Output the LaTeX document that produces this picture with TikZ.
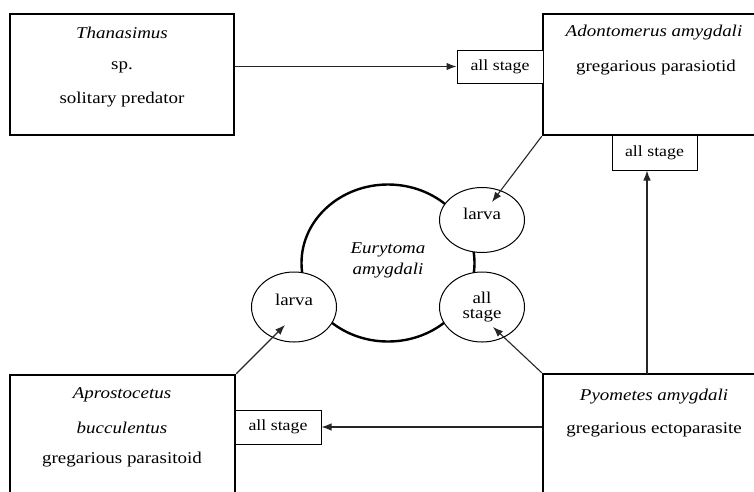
\documentclass[tikz,border=0pt]{standalone}
\usepackage{fontspec}
\setmainfont[FakeStretch=1.15]{Liberation Serif}
\usetikzlibrary{arrows.meta,shapes.geometric}
\begin{document}
\begin{tikzpicture}[x=1pt,y=-1pt,
  bigbox/.style={draw,line width=2.4pt,minimum width=224pt,minimum height=121pt,inner sep=0pt},
  tagbox/.style={draw,line width=1pt,fill=white,inner sep=0pt,font=\fontsize{15.5}{17}\selectfont},
  lab/.style={inner sep=0pt,font=\fontsize{16.5}{19}\selectfont},
  sub/.style={draw,line width=1pt,fill=white,ellipse,inner sep=0pt},
  arr/.style={draw=black!85,line width=1.1pt,-{Latex[length=10pt,width=7.5pt]}}]
\clip (0,0) rectangle (754,491);
\fill[white] (0,0) rectangle (754,491);
% boxes
\node[bigbox] (than) at (122,74.5) {};
\node[bigbox,minimum width=226pt] (adon) at (656,74.5) {};
\node[bigbox,minimum width=225pt,minimum height=150pt] (apro) at (122.5,450) {};
\node[bigbox,minimum width=226pt,minimum height=150pt] (pyom) at (656,449) {};
% box texts
\node[lab] (t1) at (122,33) {\itshape Thanasimus};
\node[lab] (t2) at (122,67) {sp.};
\node[lab] (t3) at (122,100) {solitary predator};
\node[lab] (a1) at (654,33) {\itshape Adontomerus amygdali};
\node[lab] (a2) at (656,68) {gregarious parasiotid};
\node[lab] (b1) at (122,395) {\itshape Aprostocetus};
\node[lab] (b2) at (122,428) {\itshape bucculentus};
\node[lab] (b3) at (122,460) {gregarious parasitoid};
\node[lab] (p1) at (654,397) {\itshape Pyometes amygdali};
\node[lab] (p2) at (654,430) {gregarious ectoparasite};
% tag boxes
\node[tagbox,minimum width=86pt,minimum height=33pt] (as1) at (500,66.5) {all stage};
\node[tagbox,minimum width=85pt,minimum height=35pt] (as2) at (654.5,152.5) {all stage};
\node[tagbox,minimum width=86pt,minimum height=34pt] (as3) at (278,427) {all stage};
% centre
\node[draw,line width=2.4pt,ellipse,minimum width=173pt,minimum height=157pt,inner sep=0pt] (eury) at (388,263) {};
\node[lab] (e1) at (388,250) {\itshape Eurytoma};
\node[lab] (e2) at (388,271) {\itshape amygdali};
\node[sub,minimum width=85pt,minimum height=65pt] (lr) at (482,220) {};
\node[sub,minimum width=85pt,minimum height=70pt] (asr) at (482,307) {};
\node[sub,minimum width=85pt,minimum height=70pt] (ll) at (294,307) {};
\node[lab] (lrt) at (482,214) {larva};
\node[lab] (asr1) at (482,298) {all};
\node[lab] (asr2) at (482,316) {stage};
\node[lab] (llt) at (294,300) {larva};
% arrow targets
\coordinate (tlr) at (492,202);
\coordinate (tasr) at (493,327);
\coordinate (tll) at (285,325);
\coordinate (up) at (647,374);
% connectors
\draw[arr] (as1.west -| than.east) -- (as1.west);
\draw[arr] (adon.south west) -- (tlr);
\draw[arr] (pyom.north west) -- (tasr);
\draw[arr] (apro.north east) -- (tll);
\draw[arr] (up) -- (up |- as2.south);
\draw[arr] (as3.east -| pyom.west) -- (as3.east);
\end{tikzpicture}
\end{document}
